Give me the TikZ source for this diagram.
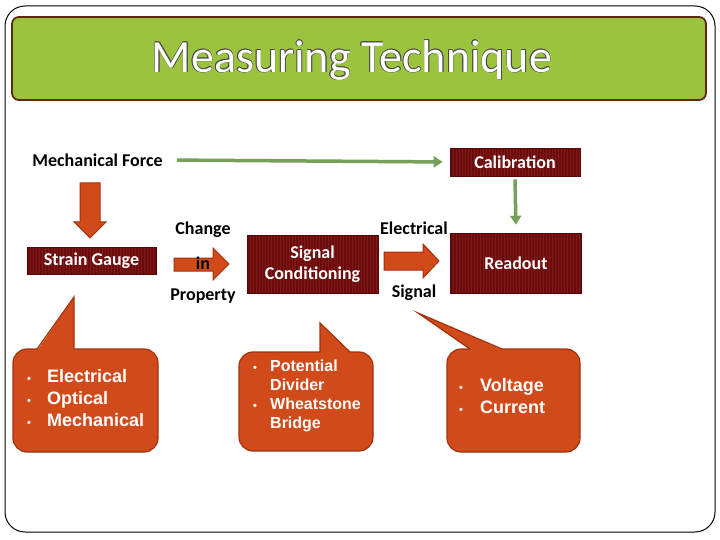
\documentclass[tikz,border=0pt]{standalone}
\usepackage{fontspec}
\setmainfont{Carlito}
\newfontfamily\arialf{Liberation Sans}
\usetikzlibrary{arrows.meta}
\definecolor{mbox}{HTML}{6B0B0B}
\definecolor{mstripe}{HTML}{7E1A1A}
\definecolor{mborder}{HTML}{5A0606}
\definecolor{orfill}{HTML}{D14B1A}
\definecolor{ordraw}{HTML}{A0320F}
\definecolor{grarrow}{HTML}{76A05A}
\definecolor{titlegreen}{HTML}{9BC33D}
\definecolor{titleborder}{HTML}{5C2A0C}
\newcommand{\cbul}{{\fontsize{11}{11}\selectfont\textbullet}}
\begin{document}
\begin{tikzpicture}[x=1pt,y=-1pt,
  maroonbox/.style={fill=mbox, draw=mborder, line width=0.6pt, text=white,
    font=\bfseries\fontsize{18}{21}\selectfont, inner sep=0pt, align=center,
    path picture={\foreach \k in {1,...,50}{\draw[mstripe, line width=0.5pt]
      ([xshift=\k*3pt]path picture bounding box.south west) --
      ([xshift=\k*3pt]path picture bounding box.north west);}}},
  lbl/.style={font=\bfseries\fontsize{18}{21}\selectfont, text=black, inner sep=0pt},
  blockarrow/.style={fill=orfill, draw=ordraw, line width=1pt, line join=miter},
  callout/.style={fill=orfill, draw=ordraw, line width=1.2pt},
  calloutfill/.style={fill=orfill},
  calloutedge/.style={draw=ordraw, line width=1.2pt, line join=miter},
  calltext/.style={text=white, font=\arialf\bfseries\fontsize{18}{22}\selectfont, inner sep=0pt, anchor=west, align=left},
  garrow/.style={draw=grarrow, line width=3.5pt, -{Triangle[length=9pt,width=11pt]}}
]
\useasboundingbox (0,0) rectangle (720,540);
% outer frame
\draw[black, line width=1pt, rounded corners=20pt] (5,6) rectangle (715,532);
% title bar
\draw[fill=titlegreen, draw=titleborder, line width=1.8pt, rounded corners=7pt] (12,17) rectangle (706,100);
\foreach \dx/\dy in {0.6/0,-0.6/0,0/0.6,0/-0.6,0.45/0.45,-0.45/0.45,0.45/-0.45,-0.45/-0.45}{
  \node[text=black!70, font=\fontsize{46}{50}\selectfont, inner sep=0pt] at (352+\dx,60+\dy) {Measuring Technique};
}
\node[text=white, font=\fontsize{46}{50}\selectfont, inner sep=0pt] (title) at (352,60) {Measuring Technique};

% labels and boxes
\node[lbl] (mf) at (97.5,160) {Mechanical Force};
\node[maroonbox, minimum width=130pt, minimum height=28pt] (cal) at (515,162) {Calibration};
\node[maroonbox, minimum width=129pt, minimum height=27pt] (sg) at (91.5,260.5) {Strain Gauge};
\node[maroonbox, minimum width=131pt, minimum height=58pt] (sc) at (312.5,264) {Signal\\Conditioning};
\node[maroonbox, minimum width=131pt, minimum height=60pt] (ro) at (516,263) {Readout};

\node[lbl] (chg) at (203,230) {Change};
\node[lbl] (prop) at (203,296) {Property};
\node[lbl] (el) at (414,228) {Electrical};
\node[lbl] (sig) at (414,293) {Signal};

% green arrows
\draw[garrow, shorten <=14pt, shorten >=7pt] (mf.east) -- (cal.west);
\draw[garrow, shorten <=3pt, shorten >=8pt] (cal.south) -- (ro.north);

% block arrows
\draw[blockarrow] (80,183) -- (100,183) -- (100,222) -- (106,222) -- (90,238) -- (74,222) -- (80,222) -- cycle;
\draw[blockarrow] (174,258) -- (213,258) -- (213,248) -- (229,264) -- (213,280) -- (213,271) -- (174,271) -- cycle;
\node[lbl] (in) at (203,263) {in};
\draw[blockarrow] (384,252) -- (423,252) -- (423,244) -- (439,261) -- (423,278) -- (423,270) -- (384,270) -- cycle;

% callouts: rounded box + pointer
\draw[callout, rounded corners=14pt] (13,349) rectangle (158,452);
\fill[calloutfill] (37.8,349.6) -- (74,297) -- (74,351.5) -- (36.5,351.5) -- cycle;
\draw[calloutedge] (37,349) -- (74,297) -- (74,349);

\draw[callout, rounded corners=14pt] (239,352) rectangle (373,451);
\fill[calloutfill] (320,323) -- (350.6,352.6) -- (351.5,354.5) -- (320,354.5) -- cycle;
\draw[calloutedge] (320,352) -- (320,323) -- (350,352);

\draw[callout, rounded corners=14pt] (447,349) rectangle (580,452);
\fill[calloutfill] (470,349.6) -- (418,313) -- (502,349.6) -- (503,351.5) -- (469,351.5) -- cycle;
\draw[calloutedge] (470,349) -- (418,313) -- (502,349);

\node[calltext] (c1) at (27,400) {\begin{tabular}{@{}p{20pt}@{}l@{}}\cbul & Electrical\\ \cbul & Optical\\ \cbul & Mechanical\end{tabular}};
\node[calltext, font=\arialf\bfseries\fontsize{16}{19}\selectfont] (c2) at (253,396.5) {\begin{tabular}{@{}p{17pt}@{}l@{}}\cbul & Potential\\ & Divider\\ \cbul & Wheatstone\\ & Bridge\end{tabular}};
\node[calltext] (c3) at (459,398) {\begin{tabular}{@{}p{21pt}@{}l@{}}\cbul & Voltage\\ \cbul & Current\end{tabular}};
\end{tikzpicture}
\end{document}
